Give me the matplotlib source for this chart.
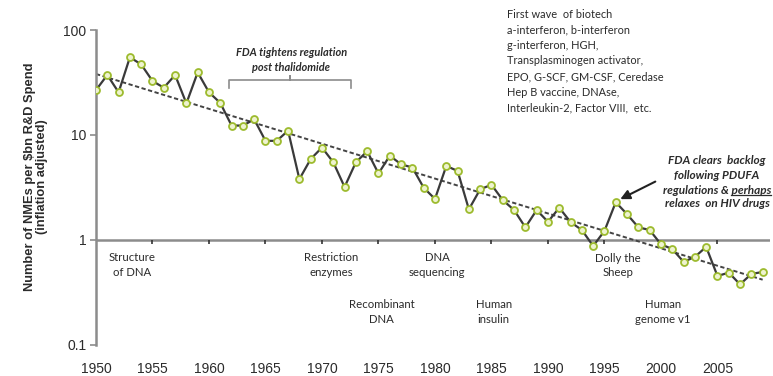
import numpy as np
import matplotlib
matplotlib.use("Agg")
import matplotlib.pyplot as plt
from matplotlib.lines import Line2D
from matplotlib.transforms import IdentityTransform

# NMEs per $bn R&D spend, one point per year 1950-2009
years = list(range(1950, 2010))
nmes = [26.8, 37.3, 25.5, 55.0, 47.0, 32.7, 28.2, 37.3, 20.0, 39.5,
        25.5, 20.2, 12.3, 12.3, 14.1, 8.8, 8.8, 11.0, 3.8, 5.9,
        7.6, 5.5, 3.2, 5.5, 7.0, 4.3, 6.35, 5.26, 4.9, 3.15,
        2.46, 5.07, 4.55, 1.96, 3.04, 3.36, 2.4, 1.93, 1.32, 1.93,
        1.49, 2.03, 1.48, 1.245, 0.877, 1.22, 2.29, 1.76, 1.32, 1.245,
        0.91, 0.82, 0.62, 0.69, 0.86, 0.454, 0.489, 0.378, 0.475, 0.496]
xticks = [1950, 1955, 1960, 1965, 1970, 1975, 1980, 1985, 1990, 1995, 2000, 2005]
yticks = [0.1, 1, 10, 100]
ytick_labels = ["0.1", "1", "10", "100"]

# milestones shown under the axis: (label, year, level)
milestones = [
    ("Structure\nof DNA", 1953.2, 0.58),
    ("Restriction\nenzymes", 1970.8, 0.58),
    ("DNA\nsequencing", 1980.2, 0.58),
    ("Recombinant\nDNA", 1975.3, 0.205),
    ("Human\ninsulin", 1985.2, 0.205),
    ("Dolly the\nSheep", 1996.2, 0.57),
    ("Human\ngenome v1", 2000.2, 0.205),
]

biotech_text = ("First wave  of biotech\na-interferon, b-interferon\ng-interferon, HGH,\n"
                "Transplasminogen activator,\nEPO, G-SCF, GM-CSF, Ceredase\n"
                "Hep B vaccine, DNAse,\nInterleukin-2, Factor VIII,  etc.")

note_font = "Lato"
gray = "#8c8c8c"
dark = "#2b2b2b"

fig = plt.figure(figsize=(7.73, 3.76), dpi=100)
ax = fig.add_axes([96 / 773, 1 - 345 / 376, 674 / 773, 315 / 376])

ax.plot(years, nmes, color="#3a3a3a", lw=1.6, marker="o", ms=5,
        mfc="#eef3cf", mec="#9dbb2e", mew=1.3, zorder=3)

# exponential trend line
coef = np.polyfit(years, np.log10(nmes), 1)
trend = 10 ** np.polyval(coef, years)
ax.plot(years, trend, color="#444444", lw=1.4, ls=(0, (2.2, 1.3)), zorder=2)

ax.set_yscale("log")
ax.set_ylim(0.1, 100)
ax.set_xlim(1950, 2009.65)
ax.set_yticks(yticks)
ax.set_yticklabels(ytick_labels)
ax.yaxis.set_minor_locator(matplotlib.ticker.NullLocator())
ax.set_xticks(xticks)
ax.set_xticklabels([str(y) for y in xticks])

for s in ["top", "right", "bottom"]:
    ax.spines[s].set_visible(False)
ax.spines["left"].set_color(gray)
ax.spines["left"].set_linewidth(1.8)
ax.tick_params(axis="y", direction="out", length=4, width=1.2, color=gray,
               labelsize=10, labelcolor=dark, pad=3)
ax.tick_params(axis="x", length=0, labelsize=10, labelcolor=dark, pad=12)
for lab in ax.get_xticklabels() + ax.get_yticklabels():
    lab.set_fontfamily("Liberation Sans")

# horizontal axis line crossing at 1, with its small tick marks
ax.axhline(1, color=gray, lw=1.8, zorder=1)
ax.plot(xticks, [1] * len(xticks), ls="none", marker=3, ms=3, mew=1.2,
        color="#333333", zorder=1)

fig.text(36 / 773, 1 - 177 / 376,
         "Number of NMEs per \\$bn R&D Spend\n(inflation adjusted)",
         rotation=90, ha="center", va="center", fontsize=9.3,
         fontweight="bold", family="Liberation Sans", color=dark,
         linespacing=0.95)

# thalidomide bracket
bx0, bx1, bxm = 1961.8, 1972.6, 1967.2
ax.plot([bx0, bx0, bxm, bxm, bxm, bx1, bx1], [28, 33.4, 33.4, 36.5, 33.4, 33.4, 28],
        color=gray, lw=1.2, clip_on=False)
ax.text(bxm + 0.1, 52, "FDA tightens regulation\npost thalidomide", ha="center",
        va="center", fontsize=7.9, fontstyle="italic", fontweight="bold",
        family=note_font, color=dark, linespacing=1.45)

fig.text(507 / 773, 1 - 9 / 376, biotech_text, ha="left", va="top", fontsize=7.9,
         family=note_font, color=dark, linespacing=1.5)

for label, x, y in milestones:
    ax.text(x, y, label, ha="center", va="center", fontsize=8.2,
            family=note_font, color=dark, linespacing=1.4)

# PDUFA note, one line at a time so "perhaps" can be underlined
note_lines = ["FDA clears  backlog", "following PDUFA",
              "regulations & perhaps", "relaxes  on HIV drugs"]
note_y = [161, 175, 190, 204]
note_objs = []
for txt, py in zip(note_lines, note_y):
    t = fig.text(717 / 773, 1 - py / 376, txt, ha="center", va="center",
                 fontsize=8.5, fontstyle="italic", fontweight="bold",
                 family=note_font, color=dark)
    note_objs.append(t)

ax.annotate("", xy=(1996.4, 2.45), xytext=(1999.5, 3.6),
            arrowprops=dict(arrowstyle="-|>", color="#222222", lw=1.5,
                            mutation_scale=14, shrinkA=0, shrinkB=0))

fig.canvas.draw()
r = fig.canvas.get_renderer()
line3 = note_objs[2].get_window_extent(r)
probe = fig.text(0, 0, "perhaps", fontsize=8.5, fontstyle="italic",
                 fontweight="bold", family=note_font)
pw = probe.get_window_extent(r).width
probe.remove()
uy = line3.y0 + 1
fig.add_artist(Line2D([line3.x1 - pw, line3.x1], [uy, uy], transform=IdentityTransform(),
                      color=dark, lw=0.9))

fig.savefig("out.png", dpi=100)
